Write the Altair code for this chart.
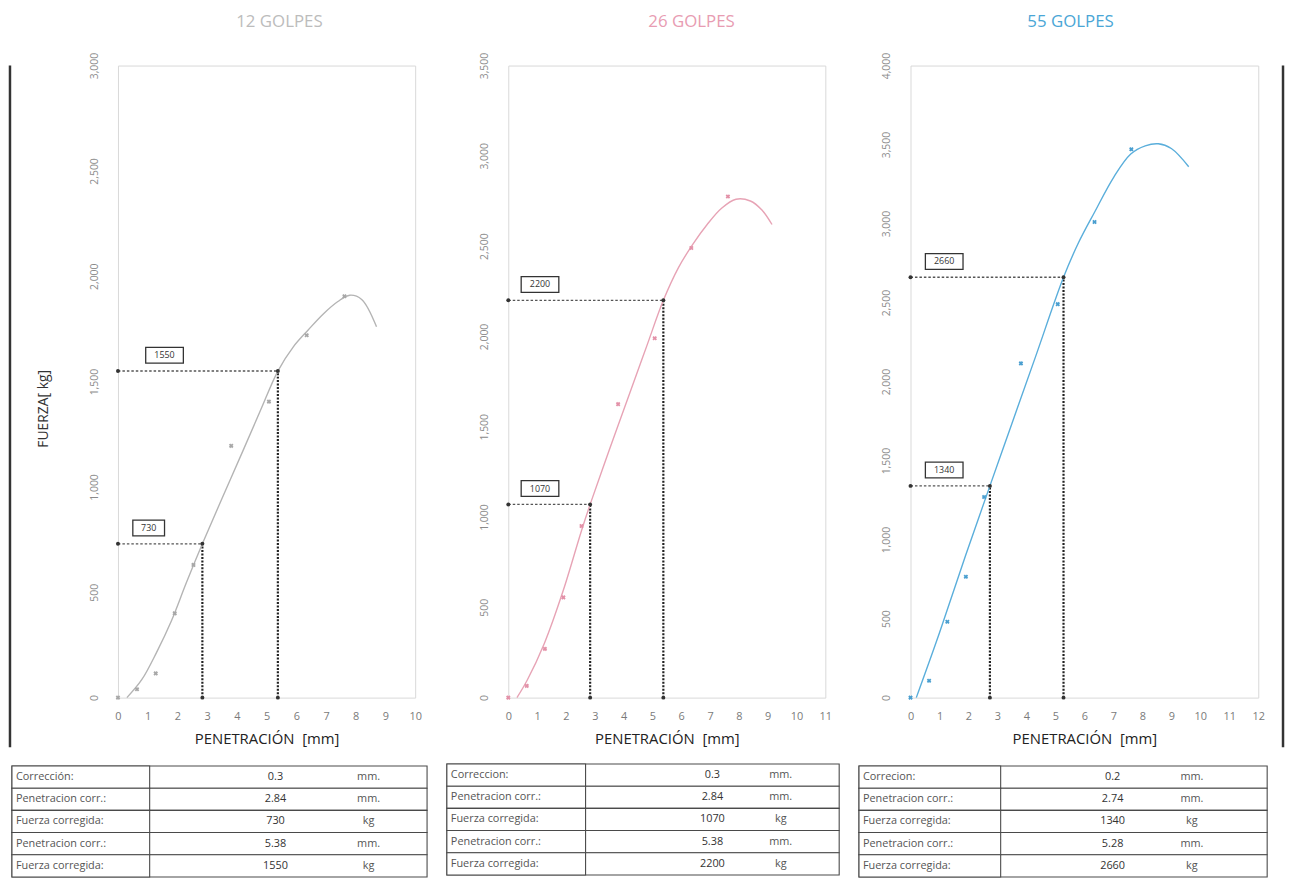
import altair as alt
import pandas as pd

# ---------------- data ----------------
PEN_STD = [0.0, 0.64, 1.27, 1.91, 2.54, 3.81, 5.08, 6.35, 7.62]
FORCE_12 = [0, 40, 115, 400, 630, 1195, 1405, 1720, 1905]
FORCE_26 = [0, 65, 270, 555, 950, 1625, 1990, 2490, 2775]
FORCE_55 = [0, 107, 480, 765, 1270, 2115, 2490, 3010, 3470]

CURVE_12_X = [0.3, 0.8, 1.3, 1.8, 2.3, 2.84, 3.5, 4.2, 4.8, 5.38, 5.9, 6.4, 6.9, 7.4, 7.8, 8.2, 8.7]
CURVE_12_Y = [0, 85, 215, 365, 545, 730, 945, 1170, 1365, 1550, 1665, 1745, 1820, 1880, 1910, 1890, 1760]
CURVE_26_X = [0.3, 0.65, 1.25, 1.9, 2.55, 2.84, 3.5, 4.2, 4.8, 5.38, 5.9, 6.4, 6.9, 7.4, 7.9, 8.4, 8.8, 9.15]
CURVE_26_Y = [0, 95, 300, 590, 930, 1070, 1370, 1680, 1945, 2200, 2380, 2510, 2620, 2710, 2760, 2750, 2700, 2620]
CURVE_55_X = [0.2, 1.0, 1.9, 2.74, 3.5, 4.3, 5.28, 5.8, 6.36, 7.0, 7.6, 8.1, 8.55, 9.0, 9.6]
CURVE_55_Y = [0, 410, 900, 1340, 1735, 2150, 2660, 2880, 3075, 3290, 3440, 3492, 3505, 3475, 3360]

TITLES = ["12 GOLPES", "26 GOLPES", "55 GOLPES"]
X_MAX = [10, 11, 12]
Y_MAX = [3000, 3500, 4000]
CORR = ["0.3", "0.3", "0.2"]
PEN_CORR = [[2.84, 5.38], [2.84, 5.38], [2.74, 5.28]]
F_CORR = [[730, 1550], [1070, 2200], [1340, 2660]]
FIRST_LABEL = ["Corrección:", "Correccion:", "Correcion:"]
ROW_LABELS = ["Penetracion corr.:", "Fuerza corregida:", "Penetracion corr.:", "Fuerza corregida:"]
UNITS = ["mm.", "mm.", "kg", "mm.", "kg"]

FORCES = [FORCE_12, FORCE_26, FORCE_55]
CURVES_X = [CURVE_12_X, CURVE_26_X, CURVE_55_X]
CURVES_Y = [CURVE_12_Y, CURVE_26_Y, CURVE_55_Y]

# ---------------- styles ----------------
FONT = "Open Sans"
LINE_COLORS = ["#b4b4b4", "#e7a3b5", "#5aaedb"]
POINT_COLORS = ["#a8a8a8", "#e391a8", "#4a9fd0"]
TITLE_COLORS = ["#bcbcbc", "#e89cb2", "#4aa6d6"]
H = 638


def make_plot(i, width, label_px, title_dx, left_border=None, right_border=None):
    xmax, ymax = X_MAX[i], Y_MAX[i]
    xs = alt.Scale(domain=[0, xmax], nice=False, zero=False)
    ys = alt.Scale(domain=[0, ymax], nice=False, zero=False)
    xax = alt.Axis(values=list(range(xmax + 1)), title="PENETRACIÓN\u00a0\u00a0[mm]", grid=False,
                   ticks=False, domain=False, labelColor="#7a7a7a", labelFont=FONT,
                   labelFontSize=11, labelPadding=13, labelFlush=False,
                   titleFont=FONT, titleFontSize=15, titleColor="#222",
                   titleFontWeight="normal", titlePadding=10)
    ykw = dict(values=list(range(0, ymax + 1, 500)), format=",.0f", grid=False, ticks=False,
               domain=False, labelAngle=270, labelAlign="center", labelBaseline="bottom",
               labelColor="#8a8a8a", labelFont=FONT, labelFontSize=10.5, labelPadding=19,
               labelFlush=False)
    if i == 0:
        yax = alt.Axis(title="FUERZA[ kg]", titleFont=FONT, titleFontSize=14, titleColor="#333",
                       titleFontWeight="normal", titleAngle=270, titleX=-75, titleY=346,
                       titleAlign="center", titleBaseline="middle", **ykw)
    else:
        yax = alt.Axis(title=None, **ykw)

    X = alt.X("x:Q", scale=xs, axis=xax)
    Y = alt.Y("y:Q", scale=ys, axis=yax)

    pts_df = pd.DataFrame({"x": PEN_STD, "y": FORCES[i]})
    cur_df = pd.DataFrame({"x": CURVES_X[i], "y": CURVES_Y[i]})
    h_df = pd.DataFrame({"x": [0, 0], "x2": PEN_CORR[i], "y": F_CORR[i]})
    v_df = pd.DataFrame({"x": PEN_CORR[i], "y": [0, 0], "y2": F_CORR[i]})
    d_df = pd.DataFrame({"x": [0, 0] + PEN_CORR[i] + PEN_CORR[i],
                         "y": F_CORR[i] + F_CORR[i] + [0, 0]})

    hl = alt.Chart(h_df).mark_rule(color="#555", strokeWidth=1.4, strokeDash=[2.5, 2]).encode(
        x=X, x2="x2:Q", y=Y)
    vl = alt.Chart(v_df).mark_rule(color="#222", strokeWidth=2.2, strokeDash=[2, 1.5]).encode(
        x=X, y=Y, y2="y2:Q")
    line = alt.Chart(cur_df).mark_line(interpolate="catmull-rom", color=LINE_COLORS[i],
                                       strokeWidth=1.4).encode(x=X, y=Y)
    pts = alt.Chart(pts_df).mark_point(shape="cross", angle=45, size=22, filled=True,
                                       color=POINT_COLORS[i], opacity=1).encode(x=X, y=Y)
    dots = alt.Chart(d_df).mark_circle(color="#333", size=16, opacity=1).encode(x=X, y=Y)

    layers = [hl, vl, line, pts, dots]

    for j in range(2):
        t = str(F_CORR[i][j])
        w = 38 if len(t) == 4 else 32
        r = 16.0 / w
        path = f"M-1,-{r:.3f}L1,-{r:.3f}L1,{r:.3f}L-1,{r:.3f}Z"
        bdf = pd.DataFrame({"y": [F_CORR[i][j]], "t": [t]})
        box = alt.Chart(bdf).mark_point(shape=path, size=w * w, filled=True, fill="white",
                                        stroke="#333", strokeWidth=1.3, opacity=1,
                                        yOffset=-16).encode(x=alt.value(label_px[j]), y=Y)
        txt = alt.Chart(bdf).mark_text(font=FONT, fontSize=9, color="#333", yOffset=-16).encode(
            x=alt.value(label_px[j]), y=Y, text="t:N")
        layers += [box, txt]

    one = pd.DataFrame({"k": [0]})
    for bx in (left_border, right_border):
        if bx is not None:
            layers.append(alt.Chart(one).mark_rule(color="#333", strokeWidth=2.5).encode(
                x=alt.value(bx), y=alt.value(0), y2=alt.value(H + 50)))

    return alt.layer(*layers).properties(
        width=width, height=H,
        title=alt.TitleParams(TITLES[i], color=TITLE_COLORS[i], font=FONT, fontSize=17,
                              fontWeight="normal", anchor="middle", frame="group",
                              offset=22, dx=title_dx),
        view=alt.ViewBackground(stroke="#d9d9d9", strokeWidth=1),
    )


def make_table(i, width, x0, x1, div_x, val_x, unit_x):
    values = [CORR[i], f"{PEN_CORR[i][0]:.2f}", str(F_CORR[i][0]),
              f"{PEN_CORR[i][1]:.2f}", str(F_CORR[i][1])]
    df = pd.DataFrame({"row": list(range(5)),
                       "label": [FIRST_LABEL[i]] + ROW_LABELS,
                       "value": values, "unit": UNITS})
    Yb = alt.Y("row:O", axis=None, scale=alt.Scale(paddingInner=0, paddingOuter=0))
    rows = alt.Chart(df).mark_rect(fill="white", stroke="#4a4a4a", strokeWidth=1.1).encode(
        x=alt.value(x0), x2=alt.value(x1), y=Yb)
    cells = alt.Chart(df).mark_rect(fill="white", stroke="#4a4a4a", strokeWidth=1.1).encode(
        x=alt.value(x0), x2=alt.value(x0 + div_x), y=Yb)
    lab = alt.Chart(df).mark_text(align="left", font=FONT, fontSize=11, color="#555").encode(
        x=alt.value(x0 + 4), y=Yb, text="label:N")
    val = alt.Chart(df).mark_text(align="center", font=FONT, fontSize=11, color="#333").encode(
        x=alt.value(x0 + val_x), y=Yb, text="value:N")
    uni = alt.Chart(df).mark_text(align="center", font=FONT, fontSize=11, color="#555").encode(
        x=alt.value(x0 + unit_x), y=Yb, text="unit:N")
    return alt.layer(rows, cells, lab, val, uni).properties(
        width=width, height=112, view=alt.ViewBackground(strokeOpacity=0))


p1 = make_plot(0, 300, [31, 47], 13, left_border=-109)
p2 = make_plot(1, 320, [32, 32], 25)
p3 = make_plot(2, 351, [34, 34], -14, right_border=376)

t1 = make_table(0, 300, -107, 312, 139, 266, 360)
t2 = make_table(1, 320, -62, 334, 140, 268, 337)
t3 = make_table(2, 351, -52, 360, 143, 256, 336)

chart = alt.hconcat(
    alt.vconcat(p1, t1, spacing=16),
    alt.vconcat(p2, t2, spacing=16),
    alt.vconcat(p3, t3, spacing=16),
    spacing=18,
).properties(padding=0).configure(font=FONT)

chart.save("out.html", embed_options={"renderer": "svg", "actions": False})
